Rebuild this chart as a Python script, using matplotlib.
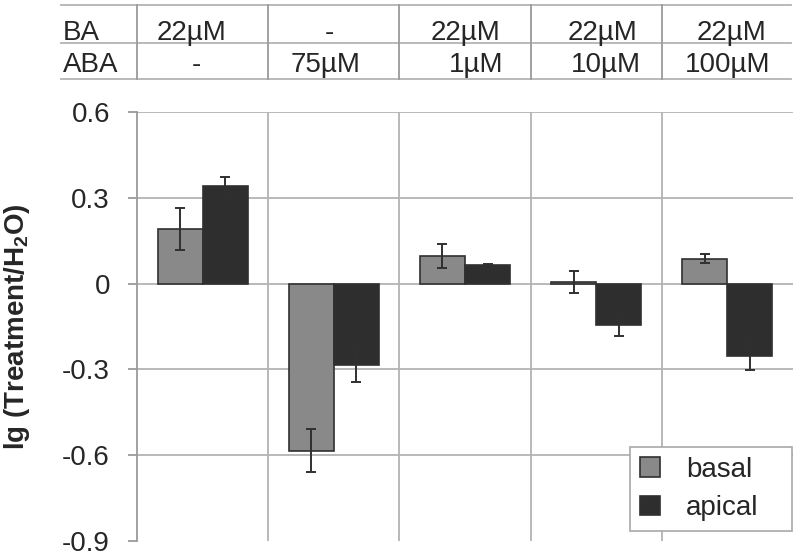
import matplotlib
matplotlib.use("Agg")
import matplotlib.pyplot as plt
import matplotlib.transforms as mtransforms
from matplotlib.lines import Line2D
from matplotlib.patches import Patch
import numpy as np

plt.rcParams['font.family'] = ['Liberation Sans', 'DejaVu Sans']
plt.rcParams['mathtext.fontset'] = 'custom'
plt.rcParams['mathtext.rm'] = 'Liberation Sans:bold'
plt.rcParams['mathtext.it'] = 'Liberation Sans:bold'
plt.rcParams['mathtext.bf'] = 'Liberation Sans:bold'

# ---- data ----
categories = ["22µM BA", "75µM ABA", "22µM BA + 1µM ABA", "22µM BA + 10µM ABA", "22µM BA + 100µM ABA"]
ba_row = ["22µM", "-", "22µM", "22µM", "22µM"]
aba_row = ["-", "75µM", "1µM", "10µM", "100µM"]
basal = [0.19, -0.585, 0.096, 0.005, 0.087]
basal_err = [0.073, 0.075, 0.043, 0.038, 0.016]
apical = [0.342, -0.285, 0.064, -0.145, -0.253]
apical_err = [0.032, 0.058, 0.004, 0.039, 0.050]
yticks = [0.6, 0.3, 0, -0.3, -0.6, -0.9]
ytick_labels = ["0.6", "0.3", "0", "-0.3", "-0.6", "-0.9"]
series_names = ["basal", "apical"]

# ---- layout / style ----
W, H = 800, 555
fig = plt.figure(figsize=(8, 5.55), dpi=100)
ax = fig.add_axes([137 / W, 14 / H, 656 / W, 429 / H])

c_basal = "#898989"
c_apical = "#2e2e2e"
c_edge = "#303030"
c_grid = "#b3b3b3"
c_text = "#262626"
fs = 20

x = np.arange(len(categories))
bw = 0.343
ax.bar(x - bw / 2, basal, bw, color=c_basal, edgecolor=c_edge, linewidth=1.2, zorder=3)
ax.bar(x + bw / 2, apical, bw, color=c_apical, edgecolor=c_edge, linewidth=1.2, zorder=3)
ax.errorbar(x - bw / 2, basal, yerr=basal_err, fmt='none', ecolor=c_edge,
            elinewidth=1.4, capsize=3.4, capthick=1.4, zorder=4)
ax.errorbar(x + bw / 2, apical, yerr=apical_err, fmt='none', ecolor=c_edge,
            elinewidth=1.4, capsize=3.4, capthick=1.4, zorder=4)

ax.set_xlim(-0.5, len(categories) - 0.5)
ax.set_ylim(-0.9, 0.6)

# gridlines
for yv in yticks[:-1]:
    ax.axhline(yv, color=c_grid, linewidth=1.3, zorder=1)
for xv in np.arange(0.5, len(categories) - 0.5, 1):
    ax.axvline(xv, color=c_grid, linewidth=1.3, zorder=1)

for s in ["top", "right", "bottom"]:
    ax.spines[s].set_visible(False)
ax.spines["left"].set_color("#9a9a9a")
ax.spines["left"].set_linewidth(1.3)
ax.set_xticks([])
ax.set_yticks(yticks)
ax.set_yticklabels(ytick_labels)
ax.tick_params(axis='y', direction='out', length=6.5, width=1.3, color="#9a9a9a",
               pad=13, labelsize=fs, labelcolor=c_text)

ax.set_ylabel(r"lg (Treatment/H$_\mathrm{2}$O)", fontsize=fs, fontweight='bold', color=c_text)
ax.yaxis.set_label_coords((32 - 137) / 656, 0.5)

# legend
handles = [Patch(facecolor=c_basal, edgecolor=c_edge, linewidth=1.2),
           Patch(facecolor=c_apical, edgecolor=c_edge, linewidth=1.2)]
lx0 = (630 - 137) / 656
lx1 = (792 - 137) / 656
ly0 = (541 - 531) / 429
ly1 = (541 - 447) / 429
leg = ax.legend(handles, series_names, loc='lower left',
                bbox_to_anchor=(lx0, ly0, lx1 - lx0, ly1 - ly0), mode='expand',
                borderaxespad=0, fontsize=fs, frameon=True, fancybox=False,
                handlelength=0.72, handleheight=0.72, handletextpad=0.95,
                borderpad=0.35, labelspacing=0.45)
leg.get_frame().set_edgecolor("#a8a8a8")
leg.get_frame().set_linewidth(1.2)
leg.get_frame().set_alpha(1)
for t in leg.get_texts():
    t.set_color(c_text)

# top table
blend = mtransforms.blended_transform_factory(ax.transData, fig.transFigure)
line_y = [1 - 4.7 / H, 1 - 42.7 / H, 1 - 78.7 / H]
for ly in line_y:
    fig.add_artist(Line2D([61 / W, 791 / W], [ly, ly], transform=fig.transFigure,
                          color=c_grid, linewidth=1.3))
for xv in np.arange(-0.5, len(categories) - 0.5, 1):
    fig.add_artist(Line2D([xv, xv], [line_y[0], line_y[2]], transform=blend,
                          color="#9a9a9a", linewidth=1.3))

row_base = [1 - 40 / H, 1 - 71.5 / H]
row1_off = [-0.081, -0.03, 0.005, 0.048, 0.031]
row2_off = [-0.051, -0.061, 0.081, 0.071, 0.001]
fig.text(63 / W, row_base[0], "BA", fontsize=fs, color=c_text, ha='left', va='baseline')
fig.text(63 / W, row_base[1], "ABA", fontsize=fs, color=c_text, ha='left', va='baseline')
for i in range(len(categories)):
    fig.text(x[i] + row1_off[i], row_base[0], ba_row[i], transform=blend, fontsize=fs,
             color=c_text, ha='center', va='baseline')
    fig.text(x[i] + row2_off[i], row_base[1], aba_row[i], transform=blend, fontsize=fs,
             color=c_text, ha='center', va='baseline')

fig.savefig("out.png", dpi=100)
